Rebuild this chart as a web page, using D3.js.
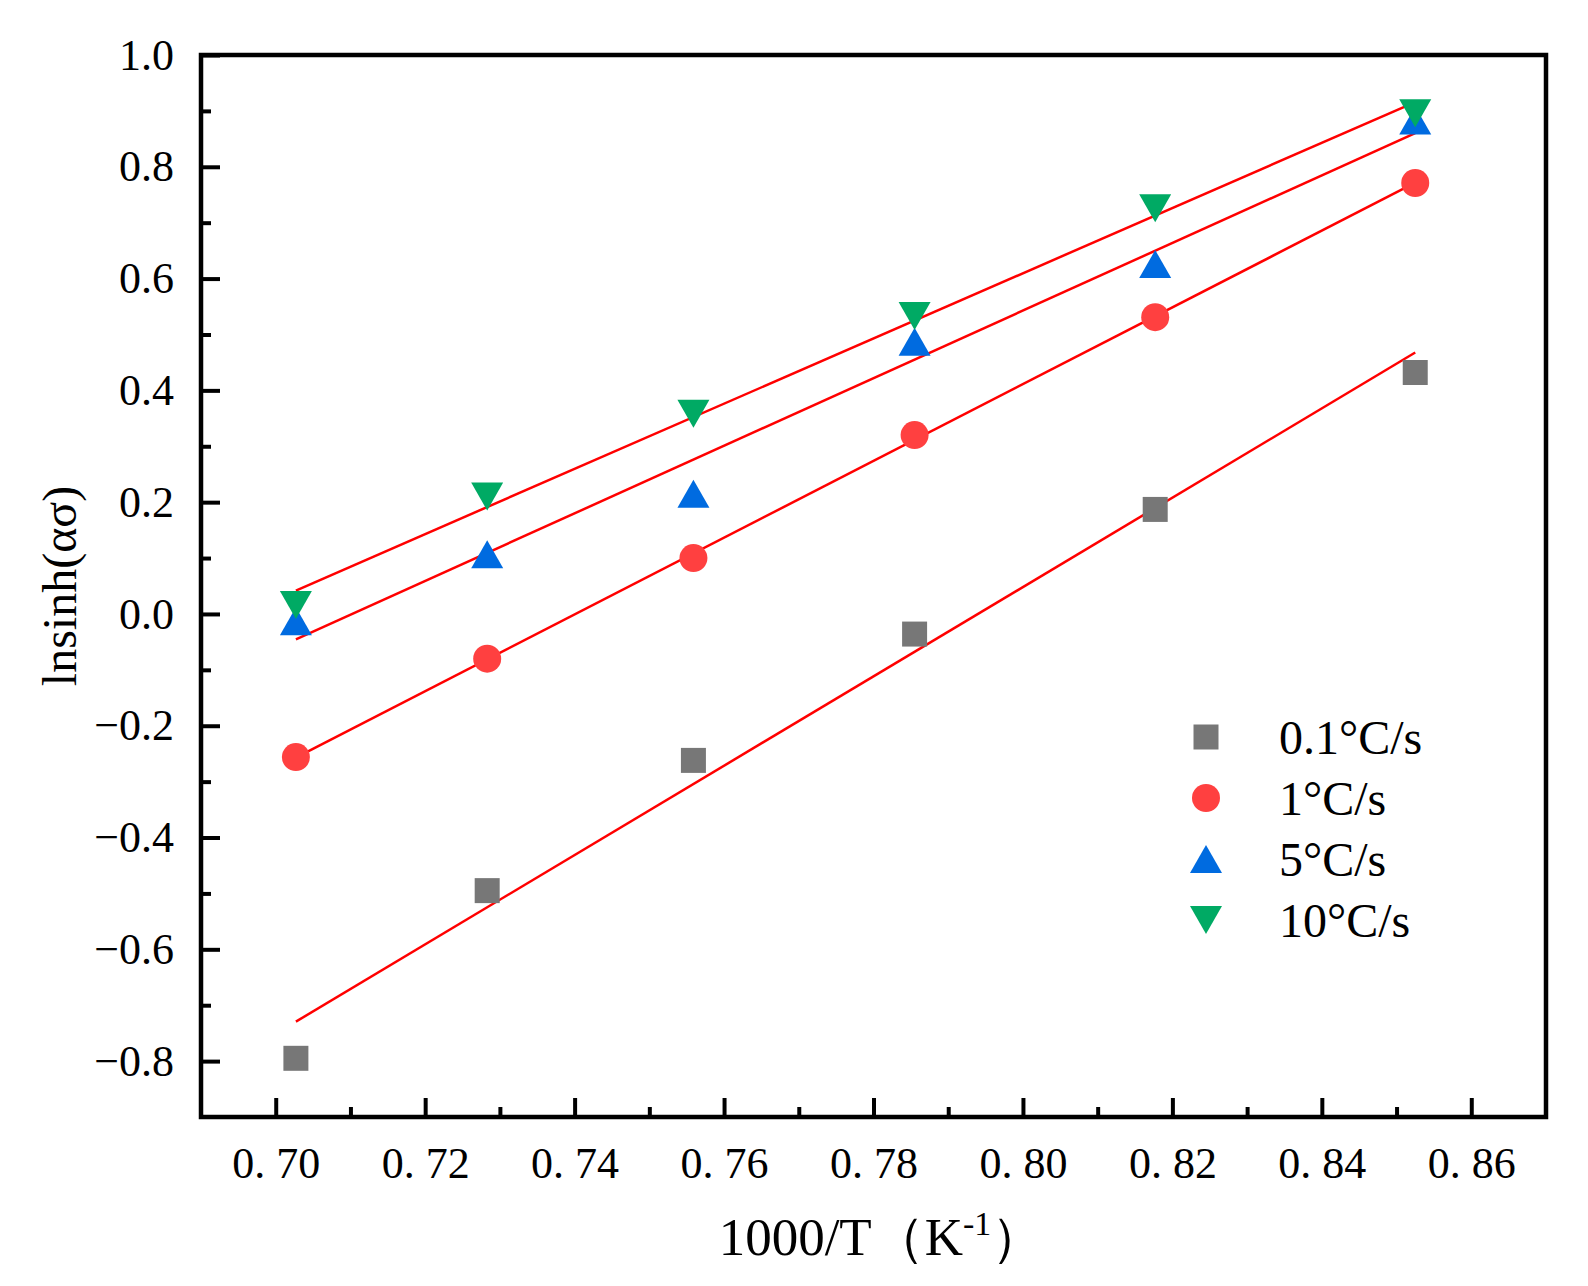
<!DOCTYPE html>
<html>
<head>
<meta charset="utf-8">
<script src="https://cdn.jsdelivr.net/npm/d3@7"></script>
<style>
  body { margin: 0; background: #fff; }
  svg { display: block; }
  text { font-family: "Liberation Serif", "Times New Roman", serif; fill: #000; }
</style>
</head>
<body>
<svg id="chart" width="1588" height="1286"></svg>
<script>
// data
const invT = [0.7027, 0.7283, 0.7559, 0.7855, 0.8177, 0.8525];
const rate01 = [-0.795, -0.495, -0.262, -0.036, 0.187, 0.432];
const rate1 = [-0.256, -0.080, 0.100, 0.320, 0.531, 0.771];
const rate5 = [-0.013, 0.107, 0.215, 0.487, 0.626, 0.883];
const rate10 = [0.016, 0.210, 0.358, 0.533, 0.726, 0.896];
const seriesNames = ["0.1°C/s", "1°C/s", "5°C/s", "10°C/s"];
const xTicks = [0.70, 0.72, 0.74, 0.76, 0.78, 0.80, 0.82, 0.84, 0.86];
const xMinor = [0.71, 0.73, 0.75, 0.77, 0.79, 0.81, 0.83, 0.85];
const yTicks = [-0.8, -0.6, -0.4, -0.2, 0.0, 0.2, 0.4, 0.6, 0.8, 1.0];
const yMinor = [-0.7, -0.5, -0.3, -0.1, 0.1, 0.3, 0.5, 0.7, 0.9];

const series = [rate01, rate1, rate5, rate10].map((vals, i) => ({
  name: seriesNames[i],
  values: vals,
  color: ["#777777", "#FF4040", "#006BE0", "#00AA64"][i],
  shape: ["square", "circle", "up", "down"][i]
}));

const W = 1588, H = 1286;
const margin = {top: 55, right: 42, bottom: 169, left: 201};

const svg = d3.select("#chart");
svg.append("rect").attr("width", W).attr("height", H).attr("fill", "#fff");

const x = d3.scaleLinear().domain([0.69, 0.87]).range([margin.left, W - margin.right]);
const y = d3.scaleLinear().domain([-0.9, 1.0]).range([H - margin.bottom, margin.top]);

// marker shapes, centred on their box
const markerPath = (shape) => {
  if (shape === "square") return "M-12.5,-12.5H12.5V12.5H-12.5Z";
  if (shape === "circle") return d3.arc()({innerRadius: 0, outerRadius: 14, startAngle: 0, endAngle: 2 * Math.PI});
  if (shape === "up") return "M0,-14L16,14L-16,14Z";
  return "M0,14L16,-14L-16,-14Z";
};

// axes (inward ticks)
const fmtX = d => d3.format(".2f")(d).replace(".", ". ");
svg.append("g")
  .attr("transform", `translate(0,${H - margin.bottom})`)
  .call(d3.axisBottom(x).tickValues(xTicks).tickFormat(fmtX).tickSizeInner(-19).tickSizeOuter(0).tickPadding(30));
svg.append("g")
  .attr("transform", `translate(0,${H - margin.bottom})`)
  .call(d3.axisBottom(x).tickValues(xMinor).tickFormat("").tickSizeInner(-10).tickSizeOuter(0));

svg.append("g")
  .attr("transform", `translate(${margin.left},0)`)
  .call(d3.axisLeft(y).tickValues(yTicks).tickFormat(d3.format(".1f")).tickSizeInner(-19).tickSizeOuter(0).tickPadding(27));
svg.append("g")
  .attr("transform", `translate(${margin.left},0)`)
  .call(d3.axisLeft(y).tickValues(yMinor).tickFormat("").tickSizeInner(-10).tickSizeOuter(0));

svg.selectAll(".domain").remove();
svg.selectAll(".tick line").attr("stroke", "#000").attr("stroke-width", 4);
svg.selectAll(".tick text").attr("font-size", 44).attr("font-family", '"Liberation Serif", serif').attr("fill", "#000");

// frame
svg.append("rect")
  .attr("x", margin.left).attr("y", margin.top)
  .attr("width", W - margin.left - margin.right)
  .attr("height", H - margin.top - margin.bottom)
  .attr("fill", "none").attr("stroke", "#000").attr("stroke-width", 4.5);

// linear fits
const fit = (xs, ys) => {
  const mx = d3.mean(xs), my = d3.mean(ys);
  const sxy = d3.sum(xs, (v, i) => (v - mx) * (ys[i] - my));
  const sxx = d3.sum(xs, v => (v - mx) * (v - mx));
  const b = sxy / sxx;
  return v => my + b * (v - mx);
};
const xExt = d3.extent(invT);
series.forEach(s => {
  const f = fit(invT, s.values);
  svg.append("line")
    .attr("x1", x(xExt[0])).attr("y1", y(f(xExt[0])))
    .attr("x2", x(xExt[1])).attr("y2", y(f(xExt[1])))
    .attr("stroke", "#FF0000").attr("stroke-width", 2.5);
});

// points
series.forEach(s => {
  svg.append("g").selectAll("path")
    .data(s.values)
    .join("path")
    .attr("d", markerPath(s.shape))
    .attr("transform", (d, i) => `translate(${x(invT[i])},${y(d)})`)
    .attr("fill", s.color);
});

// legend
const legend = svg.append("g").attr("transform", "translate(1206,737)");
series.forEach((s, i) => {
  const row = legend.append("g").attr("transform", `translate(0,${i * 61})`);
  row.append("path").attr("d", markerPath(s.shape)).attr("fill", s.color);
  row.append("text").attr("x", 73).attr("y", 17).attr("font-size", 48).text(s.name);
});

// axis titles
svg.append("text")
  .attr("transform", `translate(59,${(margin.top + H - margin.bottom) / 2}) rotate(-90)`)
  .attr("text-anchor", "middle").attr("dominant-baseline", "central")
  .attr("font-size", 48)
  .text("lnsinh(ασ)");

const xt = svg.append("text")
  .attr("x", (margin.left + W - margin.right) / 2 + 8).attr("y", 1255)
  .attr("text-anchor", "middle").attr("font-size", 53);
xt.append("tspan").text("1000/T（K");
xt.append("tspan").attr("font-size", 34).attr("dy", -20).text("-1");
xt.append("tspan").attr("dy", 20).text("）");
</script>
</body>
</html>
